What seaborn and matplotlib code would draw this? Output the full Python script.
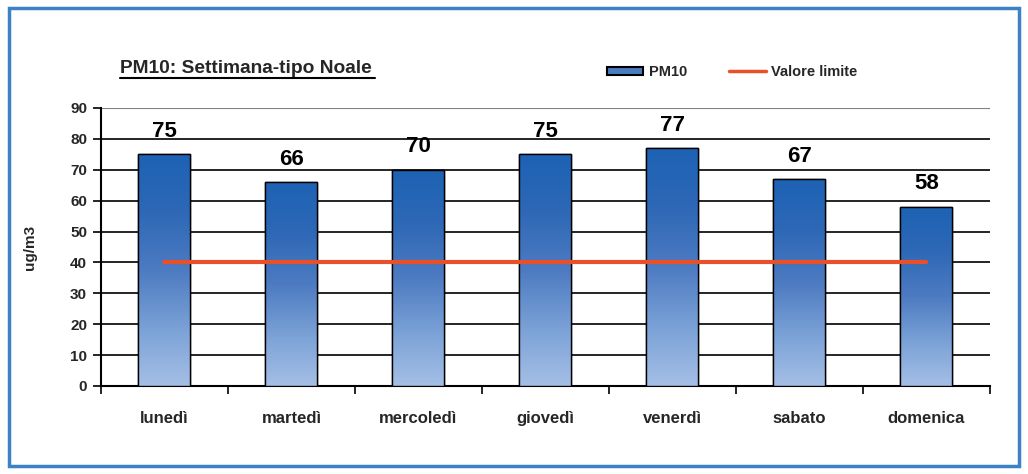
import numpy as np
import pandas as pd
import matplotlib
matplotlib.use("Agg")
import matplotlib.pyplot as plt
import seaborn as sns
from matplotlib.patches import Rectangle
from matplotlib.lines import Line2D
from matplotlib.colors import LinearSegmentedColormap

giorni = ["lunedì", "martedì", "mercoledì", "giovedì", "venerdì", "sabato", "domenica"]
pm10 = [75, 66, 70, 75, 77, 67, 58]
valore_limite = [40, 40, 40, 40, 40, 40, 40]
yticks = [0, 10, 20, 30, 40, 50, 60, 70, 80, 90]

sns.set_theme(style="white")
plt.rcParams["font.family"] = ["Liberation Sans", "DejaVu Sans"]
plt.rcParams["font.weight"] = "bold"

df = pd.DataFrame({"giorno": giorni, "PM10": pm10, "limite": valore_limite})

fig = plt.figure(figsize=(10.28, 4.74), dpi=100)
# outer frame
fig.patches.append(Rectangle((0.009, 0.017), 0.982, 0.966, transform=fig.transFigure,
                             fill=False, edgecolor="#3d82c4", linewidth=2.5))
ax = fig.add_axes([0.0982, 0.1857, 0.8648, 0.5865])

sns.barplot(data=df, x="giorno", y="PM10", ax=ax, color="#4a7cc0", width=0.41,
            edgecolor="black", linewidth=1.0, zorder=3)

cmap = LinearSegmentedColormap.from_list("g", ["#a5bfe6", "#7aa1d6", "#4d7bc2", "#2e68b6", "#1d62b4"])
grad = np.linspace(0, 1, 256).reshape(-1, 1)
for p in list(ax.patches):
    x0, y0 = p.get_x(), p.get_y()
    w, h = p.get_width(), p.get_height()
    im = ax.imshow(grad, cmap=cmap, origin="lower", aspect="auto",
                   extent=[x0, x0 + w, y0, y0 + h], zorder=3.5)
    im.set_clip_path(p)
    ax.add_patch(Rectangle((x0, y0), w, h, fill=False, edgecolor="black", linewidth=1.0, zorder=4))
    ax.text(x0 + w / 2, y0 + h + 4.0, f"{int(round(h))}", ha="center", va="bottom",
            fontsize=16, fontweight="bold", color="black", zorder=5)

sns.lineplot(data=df, x="giorno", y="limite", ax=ax, color="#e8502a", linewidth=3, zorder=6)

ax.set_xlim(-0.5, len(giorni) - 0.5)
ax.set_ylim(0, 90)
ax.set_yticks(yticks)
ax.set_yticklabels([str(v) for v in yticks], fontsize=11, fontweight="bold")
for v in yticks[1:-1]:
    ax.axhline(v, color="black", linewidth=1.2, zorder=1)
ax.axhline(90, color="#808080", linewidth=1.5, zorder=1)

ax.set_xticks(np.arange(len(giorni)))
ax.set_xticklabels(giorni, fontsize=12, fontweight="bold")
ax.tick_params(axis="x", which="major", bottom=True, length=0, pad=18)
# minor ticks at category boundaries
ax.set_xticks(np.arange(-0.5, len(giorni)), minor=True)
ax.tick_params(axis="x", which="minor", bottom=True, length=6, width=1.2, color="black", direction="out")
ax.tick_params(axis="y", left=True, length=6, width=1.2, color="black", direction="out", pad=4)

for s in ["top", "right"]:
    ax.spines[s].set_visible(False)
ax.spines["left"].set_color("black")
ax.spines["left"].set_linewidth(1.5)
ax.spines["bottom"].set_color("black")
ax.spines["bottom"].set_linewidth(1.5)

ax.set_xlabel("")
ax.set_ylabel("ug/m3", fontsize=11, fontweight="bold", labelpad=24)

fig.text(0.117, 0.845, "PM10: Settimana-tipo Noale", fontsize=13.8, fontweight="bold",
         ha="left", va="baseline")
fig.add_artist(Line2D([0.117, 0.365], [0.835, 0.835], transform=fig.transFigure,
                      color="black", linewidth=1.5))

handles = [Rectangle((0, 0), 1, 1, facecolor="#4a7cc0", edgecolor="black", linewidth=1.5),
           Line2D([0], [0], color="#e8502a", linewidth=2.5)]
leg = fig.legend(handles, ["PM10", "Valore limite"], loc="center", bbox_to_anchor=(0.712, 0.848),
                 ncol=2, frameon=False, prop={"weight": "bold", "size": 10.5},
                 handlelength=2.5, handleheight=0.45, columnspacing=2.9, handletextpad=0.35)

fig.savefig("out.png", dpi=100)
